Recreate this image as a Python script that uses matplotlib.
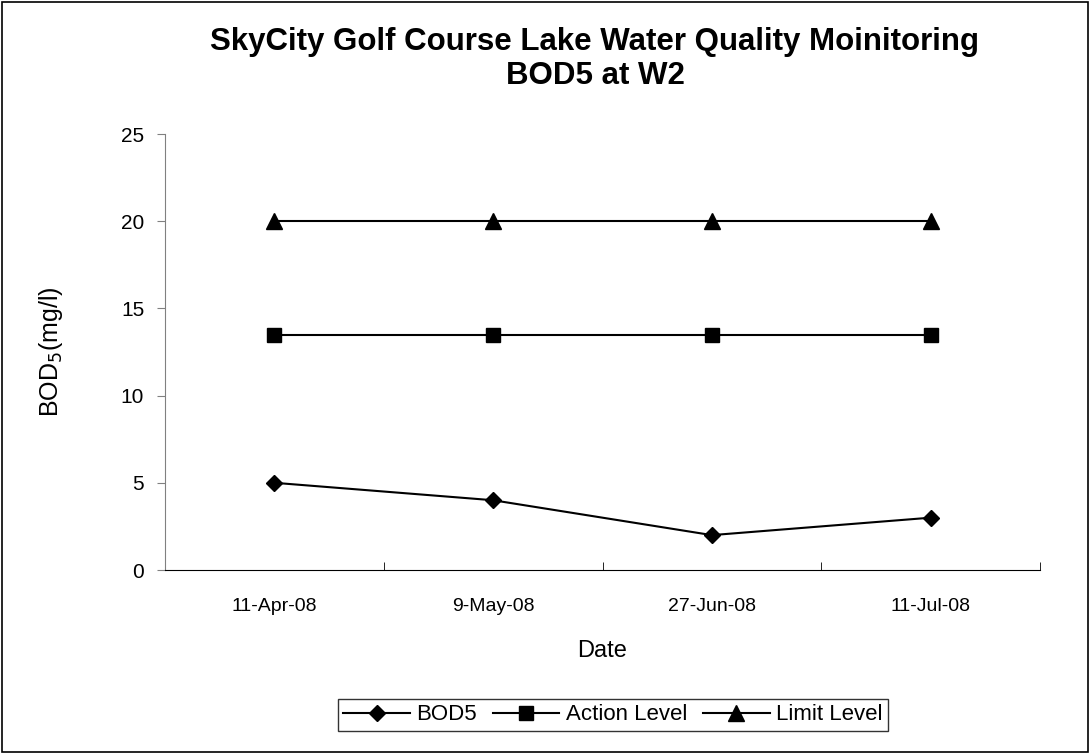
import matplotlib
matplotlib.use("Agg")
import matplotlib.pyplot as plt
from matplotlib.patches import Rectangle

plt.rcParams['font.family'] = ['Liberation Sans', 'DejaVu Sans']

# data
dates = ["11-Apr-08", "9-May-08", "27-Jun-08", "11-Jul-08"]
bod5 = [5, 4, 2, 3]
action_level = [13.5, 13.5, 13.5, 13.5]
limit_level = [20, 20, 20, 20]
y_ticks = [0, 5, 10, 15, 20, 25]

fig = plt.figure(figsize=(10.9, 7.54), dpi=100, facecolor="white")
fig.patches.append(Rectangle((0.002, 0.002), 0.996, 0.996, transform=fig.transFigure,
                             fill=False, edgecolor="black", lw=1.2))

ax = fig.add_axes([165 / 1090, 1 - 570 / 754, (1040 - 165) / 1090, (570 - 134) / 754])
x = list(range(len(dates)))

ax.plot(x, bod5, "-", color="black", lw=1.5, marker="D", ms=8, label="BOD5")
ax.plot(x, action_level, "-", color="black", lw=1.5, marker="s", ms=10, label="Action Level")
ax.plot(x, limit_level, "-", color="black", lw=1.5, marker="^", ms=11, label="Limit Level")

ax.set_xlim(-0.5, len(dates) - 0.5)
ax.set_ylim(0, 25)
ax.set_yticks(y_ticks)
ax.set_xticks(x)
ax.set_xticklabels(dates, fontsize=14)
ax.set_xticks([i + 0.5 for i in range(-1, len(dates))], minor=True)
ax.tick_params(axis="x", which="major", length=0, pad=20)
ax.tick_params(axis="x", which="minor", direction="in", length=6, color="black")
ax.tick_params(axis="y", direction="out", length=6, labelsize=15, pad=9, color="gray")

for side in ["top", "right"]:
    ax.spines[side].set_visible(False)
ax.spines["left"].set_color("gray")
ax.spines["bottom"].set_color("black")

ax.set_xlabel("Date", fontsize=17, labelpad=18)
ax.set_ylabel("BOD$_5$(mg/l)", fontsize=18, labelpad=40)

fig.text(595 / 1090, 1 - 42 / 754, "SkyCity Golf Course Lake Water Quality Moinitoring",
         ha="center", va="center", fontsize=22.5, fontweight="bold")
fig.text(595 / 1090, 1 - 76 / 754, "BOD5 at W2",
         ha="center", va="center", fontsize=22.5, fontweight="bold")

leg = fig.legend(loc="center", bbox_to_anchor=(613 / 1090, 1 - 715 / 754), ncol=3,
                 fontsize=16, frameon=True, fancybox=False, edgecolor="black",
                 handlelength=3.0, handletextpad=0.3, columnspacing=0.7, borderpad=0.25)
leg.get_frame().set_linewidth(1.0)

fig.savefig("out.png", dpi=100)
